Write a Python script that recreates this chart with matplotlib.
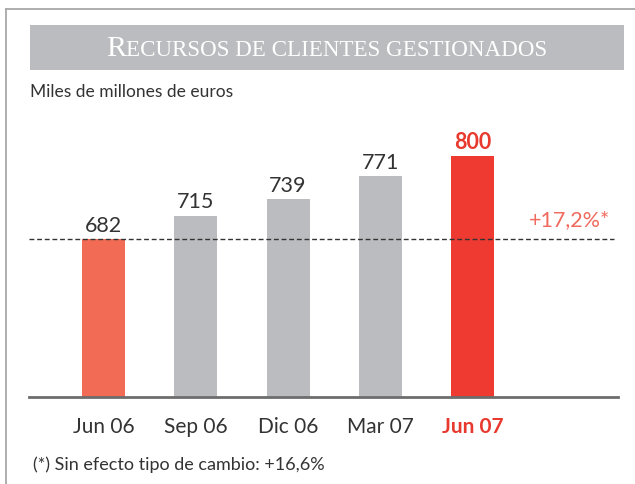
import matplotlib
matplotlib.use("Agg")
import matplotlib.pyplot as plt
from matplotlib.patches import Rectangle
from matplotlib.lines import Line2D
from matplotlib.offsetbox import TextArea, HPacker, AnnotationBbox

categories = ["Jun 06", "Sep 06", "Dic 06", "Mar 07", "Jun 07"]
values = [682, 715, 739, 771, 800]
bar_colors = ["#f26b55", "#bbbcbf", "#bbbcbf", "#bbbcbf", "#ee3a30"]
label_colors = ["#333333", "#333333", "#333333", "#333333", "#e8392f"]
growth_label = "+17,2%*"
footnote = "(*) Sin efecto tipo de cambio: +16,6%"
unit_label = "Miles de millones de euros"
title_first = "R"
title_rest = "ECURSOS DE CLIENTES GESTIONADOS"

W, H = 635, 485
plt.rcParams['font.family'] = ['Lato', 'DejaVu Sans']
fig = plt.figure(figsize=(W / 100, H / 100), dpi=100)

def fx(px):
    return px / W

def fy(py):
    return 1 - py / H

# frame lines
fig.add_artist(Line2D([fx(6), 1], [fy(10), fy(10)], color="#a8a8a8", lw=1.3))
fig.add_artist(Line2D([fx(6), fx(6)], [fy(10), 0], color="#a8a8a8", lw=1.3))

# title box
fig.add_artist(Rectangle((fx(30), fy(71)), fx(624) - fx(30), (71 - 26) / H,
                         facecolor="#bbbcbf", edgecolor="none"))
ta1 = TextArea(title_first, textprops=dict(color="white", fontsize=21.5, family="Liberation Serif"))
ta2 = TextArea(title_rest, textprops=dict(color="white", fontsize=16.6, family="Liberation Serif"))
pack = HPacker(children=[ta1, ta2], align="baseline", pad=0, sep=0)
ab = AnnotationBbox(pack, (fx(327), fy(48.5)), xycoords="figure fraction",
                    frameon=False, box_alignment=(0.5, 0.5))
fig.add_artist(ab)

fig.text(fx(30), fy(92), unit_label, fontsize=12.5, color="#333333", va="center", ha="left")
fig.text(fx(33), fy(465), footnote, fontsize=13, color="#333333", va="center", ha="left")

# axes
ax_left, ax_right, ax_bottom, ax_top = 29, 618, 398, 100
ax = fig.add_axes([fx(ax_left), fy(ax_bottom), fx(ax_right) - fx(ax_left), (ax_bottom - ax_top) / H])
x = list(range(len(categories)))
ax.bar(x, values, width=0.466, color=bar_colors, zorder=2)
ax.set_xlim(-0.808, 5.577)
ax.set_ylim(458, 458 + (ax_bottom - ax_top) / 0.705)
for s in ["top", "right", "left"]:
    ax.spines[s].set_visible(False)
ax.spines["bottom"].set_color("#6d6d6d")
ax.spines["bottom"].set_linewidth(2)
ax.set_yticks([])
ax.set_xticks(x)
ax.set_xticklabels(categories, fontsize=15)
ax.tick_params(axis="x", length=0, pad=14)
for lbl, c in zip(ax.get_xticklabels(), label_colors):
    lbl.set_color(c)
ax.get_xticklabels()[-1].set_fontweight("bold")

for xi, v, c in zip(x, values, label_colors):
    ax.annotate(str(v), (xi, v), xytext=(0, 6), textcoords="offset points",
                ha="center", va="baseline", fontsize=15.5, color=c,
                fontweight="bold" if c != "#333333" else "normal")

ax.plot([-0.808, 5.534], [values[0], values[0]], color="#333333", lw=1.0,
        linestyle=(0, (3.5, 2)), zorder=3)
ax.annotate(growth_label, (5.49, values[0]), xytext=(0, 10), textcoords="offset points",
            ha="right", va="baseline", fontsize=15.5, color="#f06a5e")

fig.savefig("out.png", dpi=100)
